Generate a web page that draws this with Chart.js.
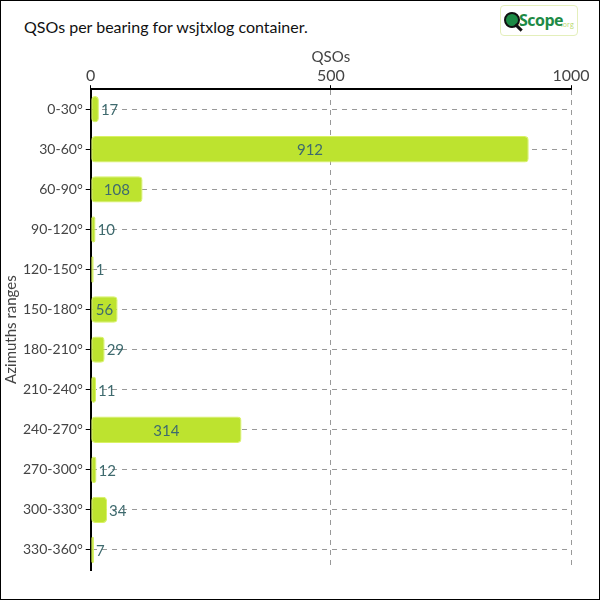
<!DOCTYPE html>
<html>
<head>
<meta charset="utf-8">
<script src="https://cdn.jsdelivr.net/npm/chart.js@4/dist/chart.umd.min.js"></script>
<style>
  body { margin: 0; background: #fff; }
  #frame { position: absolute; left: 0; top: 0; width: 600px; height: 600px; box-sizing: border-box; border: 1px solid #000; }
  #title { position: absolute; left: 24px; top: 17px; font: 16px Lato, sans-serif; color: #111; }
  #logo { position: absolute; left: 500px; top: 5px; width: 78px; height: 31px; box-sizing: border-box; border: 1px solid #e4efbb; border-radius: 4px; }
  #logo .lens { position: absolute; left: 3px; top: 6px; width: 12px; height: 12px; border-radius: 50%; background: #1d8a45; border: 2px solid #111; }
  #logo .handle { position: absolute; left: 13px; top: 20px; width: 9px; height: 3px; background: #111; transform: rotate(45deg); }
  #logo .txt { position: absolute; left: 18px; top: 3px; font: bold 16px "Liberation Sans Narrow", "Open Sans", sans-serif; color: #1d8a45; letter-spacing: -0.5px; }
  #logo .org { position: absolute; left: 60px; top: 14px; font: 7px "Open Sans", sans-serif; color: #b7d96a; }
  #box { position: absolute; left: 0; top: 0; width: 600px; height: 600px; }
</style>
</head>
<body>
<div id="frame"></div>
<div id="title">QSOs per bearing for wsjtxlog container.</div>
<div id="logo"><div class="lens"></div><div class="handle"></div><div class="txt">Scope</div><div class="org">.org</div></div>
<div id="box"><canvas id="bearing" width="600" height="600"></canvas></div>
<script>
const sectors = ['0-30°', '30-60°', '60-90°', '90-120°', '120-150°', '150-180°',
                 '180-210°', '210-240°', '240-270°', '270-300°', '300-330°', '330-360°']
const qsos = [17, 912, 108, 10, 1, 56, 29, 11, 314, 12, 34, 7]

const font_name = 'Lato, sans-serif'

// value written on each bar, inside when it fits, else just after the end
const bar_labels = {
    id: 'bar_labels',
    afterDatasetsDraw(chart) {
        const ctx = chart.ctx
        const meta = chart.getDatasetMeta(0)
        ctx.save()
        ctx.font = '15px ' + font_name
        ctx.fillStyle = '#3e6a6e'
        ctx.textBaseline = 'middle'
        meta.data.forEach((bar, i) => {
            const txt = String(qsos[i])
            const w = ctx.measureText(txt).width
            const len = bar.x - bar.base
            if (w + 8 < len) {
                ctx.textAlign = 'center'
                ctx.fillText(txt, (bar.x + bar.base) / 2, bar.y + 1)
            } else {
                ctx.textAlign = 'left'
                ctx.fillText(txt, bar.x + 2, bar.y + 1)
            }
        })
        ctx.restore()
    }
}

function draw_chart() {
    const ctx = document.getElementById('bearing').getContext('2d')
    const myChart = new Chart(ctx, {
        type: 'bar',
        data: {
            labels: sectors,
            datasets: [{
                label: 'QSOs',
                data: qsos,
                backgroundColor: '#bde32f',
                borderColor: '#d9f263',
                borderWidth: 1,
                borderRadius: 4,
                borderSkipped: false,
                barPercentage: 0.66,
                categoryPercentage: 1,
                minBarLength: 3
            }]
        },
        options: {
            indexAxis: 'y',
            responsive: false,
            animation: false,
            layout: { padding: { top: 48, left: 2, right: 29, bottom: 30 } },
            plugins: {
                legend: { display: false },
                tooltip: { enabled: false }
            },
            scales: {
                x: {
                    position: 'top',
                    min: 0,
                    max: 1000,
                    ticks: { stepSize: 500, color: '#444', font: { family: font_name, size: 16 }, padding: 0,
                             callback: v => String(v) },
                    title: { display: true, text: 'QSOs', color: '#444', font: { family: font_name, size: 15 }, padding: 0 },
                    grid: { color: '#999', tickColor: '#000', tickLength: 4 },
                    border: { color: '#000', width: 2, dash: [5, 5] }
                },
                y: {
                    ticks: { color: '#444', font: { family: font_name, size: 14 }, padding: 3 },
                    title: { display: true, text: 'Azimuths ranges', color: '#444', font: { family: font_name, size: 15 }, padding: 0 },
                    grid: { offset: false, color: '#999', tickColor: '#000', tickLength: 5 },
                    border: { color: '#000', width: 2, dash: [5, 5] }
                }
            }
        },
        plugins: [bar_labels]
    })
}

draw_chart()
</script>
</body>
</html>
